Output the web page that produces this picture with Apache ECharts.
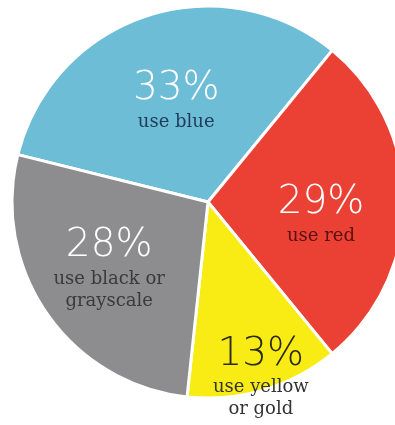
<!DOCTYPE html>
<html>
<head>
<meta charset="utf-8">
<script src="https://cdn.jsdelivr.net/npm/echarts@6/dist/echarts.min.js"></script>
<style>
  html, body { margin: 0; padding: 0; background: #ffffff; }
  #chart { width: 395px; height: 425px; }
</style>
</head>
<body>
<div id="chart"></div>
<script>
// ---- data ----
const categories = ['blue', 'red', 'yellow', 'gray'];
const values = [33, 29, 13, 28];
const captions = ['use blue', 'use red', 'use yellow\nor gold', 'use black or\ngrayscale'];
const sliceColors = ['#6ebdd7', '#eb4034', '#f9ec14', '#8d8d8f'];
const percentColors = ['#ffffff', '#ffffff', '#2b2a18', '#ffffff'];
const captionColors = ['#1e3b57', '#5a1010', '#333333', '#3a3a3a'];
// label nudges (px) from the default inside-label anchor
const labelShift = [[0, -6], [12, 12], [24, 78], [-16, 8]];

const chart = echarts.init(document.getElementById('chart'), null, { renderer: 'canvas' });

const seriesData = categories.map((c, i) => {
  const capLines = captions[i].split('\n').map(l => '{s' + i + '|' + l + '}').join('\n');
  const rich = {};
  rich['p' + i] = { fontSize: 39, lineHeight: 44, color: percentColors[i], fontFamily: 'DejaVu Sans', fontWeight: 300 };
  rich['s' + i] = { fontSize: 18, lineHeight: 22, color: captionColors[i], fontFamily: 'DejaVu Serif' };
  return {
    name: c,
    value: values[i],
    itemStyle: { color: sliceColors[i] },
    label: {
      formatter: '{p' + i + '|' + values[i] + '%}\n' + capLines,
      rich: rich
    }
  };
});

chart.setOption({
  animation: false,
  backgroundColor: '#ffffff',
  series: [{
    type: 'pie',
    center: [208, 202],
    radius: [0, 196],
    startAngle: 166,
    clockwise: true,
    silent: true,
    avoidLabelOverlap: false,
    itemStyle: { borderColor: '#ffffff', borderWidth: 3 },
    label: { show: true, position: 'inside', align: 'center' },
    labelLine: { show: false },
    labelLayout: function (params) {
      const d = labelShift[params.dataIndex];
      return { dx: d[0], dy: d[1] };
    },
    data: seriesData
  }]
});
</script>
</body>
</html>
